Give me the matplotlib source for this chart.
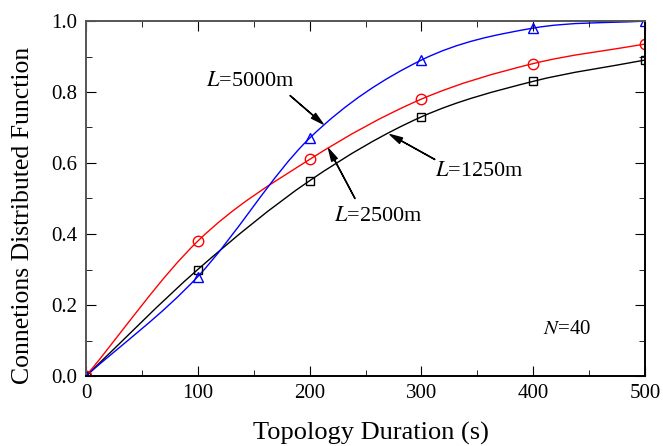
import numpy as np
import matplotlib
matplotlib.use('Agg')
from matplotlib import pyplot as plt
from matplotlib.path import Path
from matplotlib.patches import PathPatch
from matplotlib.ticker import MultipleLocator, FormatStrFormatter

# data
duration = [0, 100, 200, 300, 400, 500]
cdf_1250 = [0.0, 0.30, 0.55, 0.73, 0.83, 0.89]
cdf_2500 = [0.0, 0.38, 0.61, 0.78, 0.88, 0.935]
cdf_5000 = [0.0, 0.28, 0.67, 0.89, 0.98, 1.0]


def smooth_path(x, y):
    # catmull-rom control points -> cubic bezier path through the data points
    pts = np.column_stack([np.asarray(x, float), np.asarray(y, float)])
    ext = np.vstack([2 * pts[0] - pts[1], pts, 2 * pts[-1] - pts[-2]])
    verts = [pts[0]]
    codes = [Path.MOVETO]
    for i in range(1, len(ext) - 2):
        p0, p1, p2, p3 = ext[i - 1], ext[i], ext[i + 1], ext[i + 2]
        verts += [p1 + (p2 - p0) / 6.0, p2 - (p3 - p1) / 6.0, p2]
        codes += [Path.CURVE4] * 3
    return Path(verts, codes)


plt.rcParams['font.family'] = ['Liberation Serif', 'DejaVu Serif']
plt.rcParams['mathtext.fontset'] = 'stix'

fig = plt.figure(figsize=(6.63, 4.46), dpi=100)
ax = fig.add_axes([86 / 663, 70 / 446, 559 / 663, 355 / 446])

series = [(cdf_1250, 'black', 's', 6), (cdf_2500, 'red', 'o', 7.5), (cdf_5000, 'blue', '^', 7.5)]
for vals, col, mk, ms in series:
    ax.add_patch(PathPatch(smooth_path(duration, vals), fill=False,
                           edgecolor=col, lw=1.0))
    ax.plot(duration, vals, linestyle='none', marker=mk, mfc='none',
            mec=col, ms=ms, mew=1.0)

ax.set_xlim(0, 500)
ax.set_ylim(0, 1.0)
ax.xaxis.set_major_locator(MultipleLocator(100))
ax.xaxis.set_minor_locator(MultipleLocator(50))
ax.yaxis.set_major_locator(MultipleLocator(0.2))
ax.yaxis.set_minor_locator(MultipleLocator(0.1))
ax.yaxis.set_major_formatter(FormatStrFormatter('%.1f'))
ax.tick_params(which='both', direction='in', top=True, right=True, labelsize=15)
ax.tick_params(which='major', length=7, pad=6)
ax.tick_params(which='minor', length=4)
for name, sp in ax.spines.items():
    sp.set_linewidth(1.4)
    if name in ('left', 'top'):
        sp.set_color('#555555')

fig.text(371 / 663, 6 / 446, 'Topology Duration (s)', fontsize=19,
         ha='center', va='baseline')
fig.text(23 / 663, (446 - 215) / 446, 'Connetions Distributed Function',
         fontsize=18.5, rotation=90, ha='center', va='center')

arrow = dict(facecolor='black', edgecolor='black', width=0.2, headwidth=4.5, headlength=9)
ax.text(146.7, 0.83, '$L$=5000m', fontsize=16, ha='center', va='center')
ax.annotate('', xy=(212, 0.71), xytext=(182.5, 0.79), arrowprops=arrow)
ax.text(261.6, 0.45, '$L$=2500m', fontsize=16, ha='center', va='center')
ax.annotate('', xy=(217, 0.64), xytext=(240.6, 0.50), arrowprops=arrow)
ax.text(352, 0.577, '$L$=1250m', fontsize=16, ha='center', va='center')
ax.annotate('', xy=(272, 0.68), xytext=(312, 0.61), arrowprops=arrow)
ax.text(430.6, 0.13, '$N$=40', fontsize=15, ha='center', va='center')

fig.savefig('out.png', dpi=100)
